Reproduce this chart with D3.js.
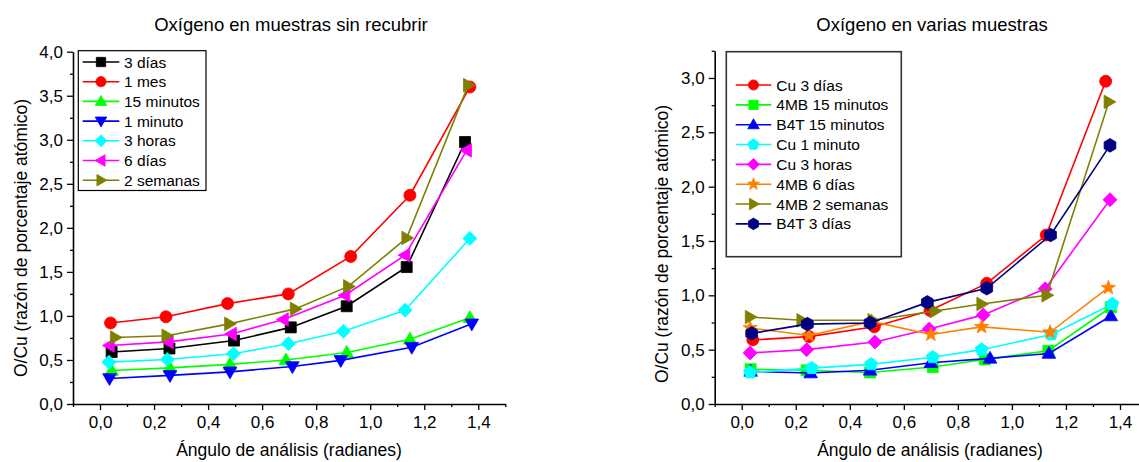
<!DOCTYPE html>
<html><head><meta charset="utf-8">
<script src="https://cdn.jsdelivr.net/npm/d3@7"></script>
<style>
body{margin:0;background:#fff}
svg{display:block}
text{font-family:"Liberation Sans",Arial,Helvetica,sans-serif;fill:#000}
</style>
</head><body>
<svg id="c" width="1139" height="462"></svg>
<script>
// ---------- tick labels ----------
const xTicks = [0.0, 0.2, 0.4, 0.6, 0.8, 1.0, 1.2, 1.4];
const xMinorTicks = [-0.1, 0.1, 0.3, 0.5, 0.7, 0.9, 1.1, 1.3, 1.5];
const yTicksLeft = [0.0, 0.5, 1.0, 1.5, 2.0, 2.5, 3.0, 3.5, 4.0];
const yMinorLeft = [0.25, 0.75, 1.25, 1.75, 2.25, 2.75, 3.25, 3.75];
const yTicksRight = [0.0, 0.5, 1.0, 1.5, 2.0, 2.5, 3.0];
const yMinorRight = [0.25, 0.75, 1.25, 1.75, 2.25, 2.75, 3.25];

// ---------- left chart: Oxígeno en muestras sin recubrir ----------
const leftNames = ["3 días", "1 mes", "15 minutos", "1 minuto", "3 horas", "6 días", "2 semanas"];
const L_3dias_x   = [0.043, 0.257, 0.496, 0.706, 0.913, 1.135, 1.351];
const L_3dias_y   = [0.59, 0.63, 0.72, 0.87, 1.11, 1.555, 2.975];
const L_1mes_x    = [0.039, 0.244, 0.472, 0.697, 0.928, 1.147, 1.369];
const L_1mes_y    = [0.92, 0.99, 1.14, 1.25, 1.675, 2.37, 3.60];
const L_15min_x   = [0.043, 0.259, 0.481, 0.688, 0.913, 1.147, 1.369];
const L_15min_y   = [0.38, 0.41, 0.45, 0.50, 0.585, 0.735, 0.98];
const L_1min_x    = [0.035, 0.259, 0.481, 0.712, 0.891, 1.154, 1.376];
const L_1min_y    = [0.29, 0.325, 0.365, 0.425, 0.495, 0.645, 0.91];
const L_3horas_x  = [0.033, 0.249, 0.494, 0.697, 0.901, 1.129, 1.369];
const L_3horas_y  = [0.475, 0.505, 0.57, 0.685, 0.825, 1.065, 1.88];
const L_6dias_x   = [0.035, 0.253, 0.487, 0.679, 0.907, 1.129, 1.357];
const L_6dias_y   = [0.665, 0.705, 0.795, 0.96, 1.235, 1.69, 2.88];
const L_2sem_x    = [0.056, 0.247, 0.479, 0.722, 0.919, 1.135, 1.363];
const L_2sem_y    = [0.755, 0.775, 0.91, 1.08, 1.335, 1.885, 3.62];

// ---------- right chart: Oxígeno en varias muestras ----------
const rightNames = ["Cu 3 días", "4MB 15 minutos", "B4T 15 minutos", "Cu 1 minuto", "Cu 3 horas", "4MB 6 días", "4MB 2 semanas", "B4T 3 días"];
const R_cu3d_x    = [0.041, 0.249, 0.491, 0.697, 0.907, 1.127, 1.347];
const R_cu3d_y    = [0.59, 0.62, 0.71, 0.86, 1.11, 1.555, 2.97];
const R_mb15_x    = [0.033, 0.240, 0.475, 0.707, 0.900, 1.135, 1.366];
const R_mb15_y    = [0.32, 0.31, 0.29, 0.34, 0.41, 0.49, 0.89];
const R_b4t15_x   = [0.033, 0.255, 0.475, 0.700, 0.919, 1.137, 1.366];
const R_b4t15_y   = [0.30, 0.285, 0.31, 0.38, 0.42, 0.465, 0.81];
const R_cu1m_x    = [0.031, 0.259, 0.479, 0.707, 0.888, 1.146, 1.372];
const R_cu1m_y    = [0.29, 0.33, 0.365, 0.43, 0.50, 0.64, 0.92];
const R_cu3h_x    = [0.031, 0.240, 0.493, 0.694, 0.894, 1.123, 1.363];
const R_cu3h_y    = [0.47, 0.50, 0.57, 0.69, 0.82, 1.06, 1.88];
const R_mb6d_x    = [0.031, 0.249, 0.481, 0.700, 0.888, 1.141, 1.357];
const R_mb6d_y    = [0.70, 0.63, 0.76, 0.64, 0.71, 0.66, 1.07];
const R_mb2s_x    = [0.031, 0.222, 0.485, 0.715, 0.888, 1.129, 1.359];
const R_mb2s_y    = [0.80, 0.77, 0.77, 0.855, 0.92, 1.00, 2.78];
const R_b4t3d_x   = [0.037, 0.243, 0.475, 0.687, 0.907, 1.143, 1.363];
const R_b4t3d_y   = [0.65, 0.735, 0.745, 0.935, 1.065, 1.555, 2.38];

// ---------- build series tables ----------
const leftSeries = [
  {name: leftNames[0], x: L_3dias_x,  y: L_3dias_y,  color: "#000000", sym: "square"},
  {name: leftNames[1], x: L_1mes_x,   y: L_1mes_y,   color: "#ff0000", sym: "circle"},
  {name: leftNames[2], x: L_15min_x,  y: L_15min_y,  color: "#00ff00", sym: "triUp"},
  {name: leftNames[3], x: L_1min_x,   y: L_1min_y,   color: "#0000ff", sym: "triDown"},
  {name: leftNames[4], x: L_3horas_x, y: L_3horas_y, color: "#00ffff", sym: "diamond"},
  {name: leftNames[5], x: L_6dias_x,  y: L_6dias_y,  color: "#ff00ff", sym: "triLeft"},
  {name: leftNames[6], x: L_2sem_x,   y: L_2sem_y,   color: "#808000", sym: "triRight"}
];
const rightSeries = [
  {name: rightNames[0], x: R_cu3d_x,  y: R_cu3d_y,  color: "#ff0000", sym: "circle"},
  {name: rightNames[1], x: R_mb15_x,  y: R_mb15_y,  color: "#00ff00", sym: "square"},
  {name: rightNames[2], x: R_b4t15_x, y: R_b4t15_y, color: "#0000ff", sym: "triUp"},
  {name: rightNames[3], x: R_cu1m_x,  y: R_cu1m_y,  color: "#00ffff", sym: "pentagon"},
  {name: rightNames[4], x: R_cu3h_x,  y: R_cu3h_y,  color: "#ff00ff", sym: "diamond"},
  {name: rightNames[5], x: R_mb6d_x,  y: R_mb6d_y,  color: "#ff8000", sym: "star"},
  {name: rightNames[6], x: R_mb2s_x,  y: R_mb2s_y,  color: "#808000", sym: "triRight"},
  {name: rightNames[7], x: R_b4t3d_x, y: R_b4t3d_y, color: "#000080", sym: "hexagon"}
];

// ---------- marker shapes ----------
function poly(pts){ return "M" + pts.map(p => p[0].toFixed(2) + "," + p[1].toFixed(2)).join("L") + "Z"; }
function regular(n, r, rot){
  const pts = [];
  for (let i = 0; i < n; i++){ const a = rot + i * 2 * Math.PI / n; pts.push([r*Math.sin(a), -r*Math.cos(a)]); }
  return pts;
}
function marker(sym, k){
  switch(sym){
    case "square": return poly([[-5.5*k,-5.5*k],[5.5*k,-5.5*k],[5.5*k,5.5*k],[-5.5*k,5.5*k]]);
    case "circle": { const r = 6*k; return `M${-r},0A${r},${r} 0 1,0 ${r},0A${r},${r} 0 1,0 ${-r},0Z`; }
    case "triUp": return poly([[0,-7*k],[6.8*k,4.8*k],[-6.8*k,4.8*k]]);
    case "triDown": return poly([[0,7*k],[6.8*k,-4.8*k],[-6.8*k,-4.8*k]]);
    case "triLeft": return poly([[-7*k,0],[4.8*k,-6.8*k],[4.8*k,6.8*k]]);
    case "triRight": return poly([[7*k,0],[-4.8*k,-6.8*k],[-4.8*k,6.8*k]]);
    case "diamond": return poly([[0,-7*k],[7*k,0],[0,7*k],[-7*k,0]]);
    case "pentagon": return poly(regular(5, 6.8*k, 0));
    case "hexagon": return poly(regular(6, 6.8*k, 0));
    case "star": {
      const pts = [];
      for (let i = 0; i < 10; i++){ const r = (i % 2 === 0 ? 7.5 : 3.1) * k; const a = i * Math.PI / 5; pts.push([r*Math.sin(a), -r*Math.cos(a)]); }
      return poly(pts);
    }
  }
}

const svg = d3.select("#c");
const fmt = d => d3.format(".1f")(d).replace(".", ",");

function drawChart(cfg){
  const g = svg.append("g");
  const x = d3.scaleLinear().domain([-0.1, 1.5]).range(cfg.xRange);
  const y = d3.scaleLinear().domain(cfg.yDomain).range(cfg.yRange);
  const y0 = y(0), x0 = x(-0.1);

  // axes
  const xa = g.append("g").attr("transform", `translate(0,${y0})`)
    .call(d3.axisBottom(x).tickValues(xTicks).tickFormat(fmt).tickSize(6).tickSizeOuter(0));
  g.append("g").attr("transform", `translate(0,${y0})`)
    .call(d3.axisBottom(x).tickValues(xMinorTicks).tickFormat("").tickSize(3).tickSizeOuter(0))
    .select(".domain").remove();
  const ya = g.append("g").attr("transform", `translate(${x0},0)`)
    .call(d3.axisLeft(y).tickValues(cfg.yTicks).tickFormat(fmt).tickSize(6).tickSizeOuter(0));
  g.append("g").attr("transform", `translate(${x0},0)`)
    .call(d3.axisLeft(y).tickValues(cfg.yMinor).tickFormat("").tickSize(3).tickSizeOuter(0))
    .select(".domain").remove();
  g.selectAll(".domain").attr("stroke", "#000").attr("stroke-width", 1.6);
  g.selectAll(".tick line").attr("stroke", "#000").attr("stroke-width", 1.3);
  xa.selectAll(".tick text").attr("font-size", 17).attr("font-family", '"Liberation Sans",Arial,sans-serif').attr("dy", "0").attr("y", 24);
  ya.selectAll(".tick text").attr("font-size", 17).attr("font-family", '"Liberation Sans",Arial,sans-serif').attr("x", -10);

  // series
  cfg.series.forEach(s => {
    const pts = s.x.map((v, i) => [v, s.y[i]]);
    g.append("path").datum(pts)
      .attr("fill", "none").attr("stroke", s.color).attr("stroke-width", 1.6)
      .attr("d", d3.line().x(d => x(d[0])).y(d => y(d[1])));
    g.selectAll(null).data(pts).enter().append("path")
      .attr("transform", d => `translate(${x(d[0])},${y(d[1])})`)
      .attr("d", marker(s.sym, 1))
      .attr("fill", s.color).attr("stroke", s.color).attr("stroke-width", 0.8);
  });

  // titles
  g.append("text").attr("x", cfg.titleX).attr("y", 31).attr("text-anchor", "middle")
    .attr("font-size", 18.5).text(cfg.title);
  g.append("text").attr("x", cfg.xTitleX).attr("y", 456).attr("text-anchor", "middle")
    .attr("font-size", 17.5).text("Ángulo de análisis (radianes)");
  g.append("text").attr("transform", `translate(${cfg.yTitleX},${cfg.yTitleY}) rotate(-90)`)
    .attr("text-anchor", "middle").attr("font-size", 17.5)
    .text("O/Cu (razón de porcentaje atómico)");

  // legend
  const L = cfg.legend;
  g.append("rect").attr("x", L.x0).attr("y", L.y0).attr("width", L.x1 - L.x0).attr("height", L.y1 - L.y0)
    .attr("fill", "#fff").attr("stroke", L.stroke).attr("stroke-width", L.sw);
  cfg.series.forEach((s, i) => {
    const yy = L.firstRow + i * L.step;
    g.append("line").attr("x1", L.lineX0).attr("x2", L.lineX1).attr("y1", yy).attr("y2", yy)
      .attr("stroke", s.color).attr("stroke-width", 1.6);
    g.append("path").attr("transform", `translate(${(L.lineX0 + L.lineX1) / 2},${yy})`)
      .attr("d", marker(s.sym, 0.85)).attr("fill", s.color).attr("stroke", s.color).attr("stroke-width", 0.8);
    g.append("text").attr("x", L.textX).attr("y", yy).attr("dy", "0.36em")
      .attr("font-size", 15.5).text(s.name);
  });
}

drawChart({
  series: leftSeries,
  xRange: [73, 505.3], yDomain: [0, 4], yRange: [404, 51.7],
  yTicks: yTicksLeft, yMinor: yMinorLeft,
  title: "Oxígeno en muestras sin recubrir", titleX: 291, xTitleX: 289,
  yTitleX: 27, yTitleY: 238,
  legend: {x0: 78.3, x1: 206, y0: 50.7, y1: 190.5, firstRow: 62, step: 19.7,
           lineX0: 82.7, lineX1: 119.3, textX: 124, stroke: "#000", sw: 1.2}
});
drawChart({
  series: rightSeries,
  xRange: [714.7, 1147], yDomain: [0, 3.25], yRange: [404, 50.8],
  yTicks: yTicksRight, yMinor: yMinorRight,
  title: "Oxígeno en varias muestras", titleX: 932, xTitleX: 930,
  yTitleX: 668, yTitleY: 244,
  legend: {x0: 726.3, x1: 901.3, y0: 51.7, y1: 256.7, firstRow: 85, step: 19.84,
           lineX0: 735.7, lineX1: 771.3, textX: 776.3, stroke: "#333", sw: 1.6}
});
</script>
</body></html>
